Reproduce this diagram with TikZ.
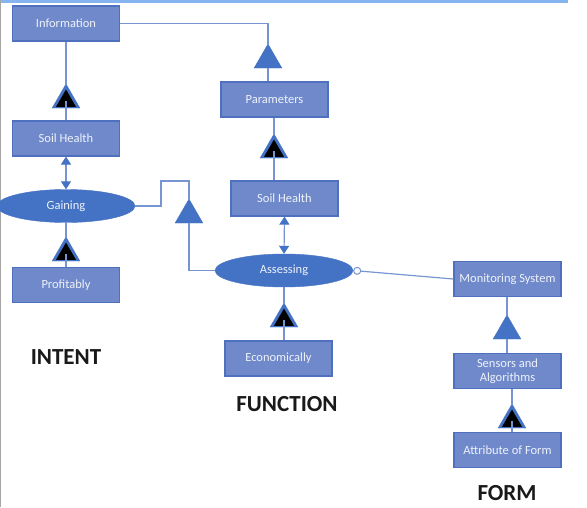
\documentclass[tikz,border=0pt]{standalone}
\usepackage{fontspec}
\setmainfont{Carlito}
\usetikzlibrary{arrows.meta,shapes.geometric}
\definecolor{BoxBlue}{HTML}{7089CB}
\definecolor{BoxEdge}{HTML}{4E70BE}
\definecolor{OvalBlue}{HTML}{4472C4}
\definecolor{LinkBlue}{HTML}{7695D2}
\definecolor{PaleText}{HTML}{EEF2FA}
\definecolor{TopBar}{HTML}{86B4F0}
\tikzset{
  blockbox/.style={draw=BoxEdge, line width=1.2pt, fill=BoxBlue, align=center, minimum width=107pt, minimum height=35pt, inner sep=0pt, font=\fontsize{12.5}{14.5}\selectfont, text=PaleText},
  actoval/.style={ellipse, fill=OvalBlue, draw=OvalBlue, minimum width=138pt, minimum height=33pt, inner sep=0pt, font=\fontsize{12.5}{14.5}\selectfont, text=PaleText},
  tri/.style={regular polygon, regular polygon sides=3, fill=OvalBlue, draw=OvalBlue, minimum size=32pt, inner sep=0pt},
  blacktri/.style={regular polygon, regular polygon sides=3, fill=black, minimum size=23pt, inner sep=0pt},
  link/.style={draw=LinkBlue, line width=1.2pt},
  dbllink/.style={link, {Triangle[length=8pt,width=10pt,color=OvalBlue]}-{Triangle[length=8pt,width=10pt,color=OvalBlue]}},
  pillar/.style={font=\fontsize{23}{27}\selectfont\bfseries, text=black!90},
}

\begin{document}
\begin{tikzpicture}[x=1pt, y=-1pt]
    \useasboundingbox (0,0) rectangle (587,507);
    \fill[TopBar] (0,0) rectangle (568,2.5);
    \draw[black!35, line width=1pt] (0.5,0) -- (0.5,507);

    \node[blockbox] (info) at (66,23.5) {Information};
    \node[blockbox] (soilL) at (66,138.5) {Soil Health};
    \node[actoval] (gain) at (66,206) {Gaining};
    \node[blockbox] (profit) at (66,285) {Profitably};
    \node[blockbox] (param) at (274.5,99.5) {Parameters};
    \node[blockbox] (soilR) at (284.5,198.5) {Soil Health};
    \node[actoval] (assess) at (284,270.5) {Assessing};
    \node[blockbox] (econ) at (278.5,358.5) {Economically};
    \node[blockbox] (monsys) at (507.5,279) {Monitoring System};
    \node[blockbox] (sensors) at (507.5,371) {Sensors and\\Algorithms};
    \node[blockbox] (attrib) at (507.5,450) {Attribute of Form};

    \node[tri] (tA) at (66,100) {};
    \node[tri] (tB) at (66,253) {};
    \node[tri] (tC) at (268,60) {};
    \node[tri] (tD) at (274,150) {};
    \node[tri] (tE) at (189,215) {};
    \node[tri] (tF) at (284,319) {};
    \node[tri] (tG) at (507,331) {};
    \node[tri] (tH) at (512,420) {};
    \foreach \t in {tA,tB,tD,tF,tH}{
      \node[blacktri] at ([yshift=-1pt]\t.center) {};
      \draw[link] (\t.south) -- ++(0,-7);
    }

    \draw[link] (tA.north) -- (info.south);
    \draw[link] (tA.south) -- (soilL.north);
    \draw[dbllink] (soilL.south) -- (gain.north);
    \draw[link] (tB.north) -- (gain.south);
    \draw[link] (tB.south) -- (profit.north);
    \draw[link] (info.east) -| (tC.north);
    \draw[link] (tC.south) -- (tC.south |- param.north);
    \draw[link] (tD.north) -- (tD.north |- param.south);
    \draw[link] (tD.south) -- (tD.south |- soilR.north);
    \draw[dbllink] (soilR.south) -- (assess.north);
    \coordinate (bend) at (161,181);
    \draw[link] (gain.east) -| (bend) -| (tE.north);
    \draw[link] (assess.west) -| (tE.south);
    \draw[link] (tF.north) -- (assess.south);
    \draw[link] (tF.south) -- (tF.south |- econ.north);
    \draw[link, {Circle[open, length=8pt, width=8pt, line width=1pt]}-] (assess.east) -- (monsys.west);
    \draw[link] (tG.north) -- (tG.north |- monsys.south);
    \draw[link] (tG.south) -- (tG.south |- sensors.north);
    \draw[link] (tH.north) -- (tH.north |- sensors.south);
    \draw[link] (tH.south) -- (tH.south |- attrib.north);

    \node[pillar] (intent) at (66,357) {INTENT};
    \node[pillar] (function) at (287,404) {FUNCTION};
    \node[pillar] (form) at (507,493) {FORM};
  \end{tikzpicture}
\end{document}
